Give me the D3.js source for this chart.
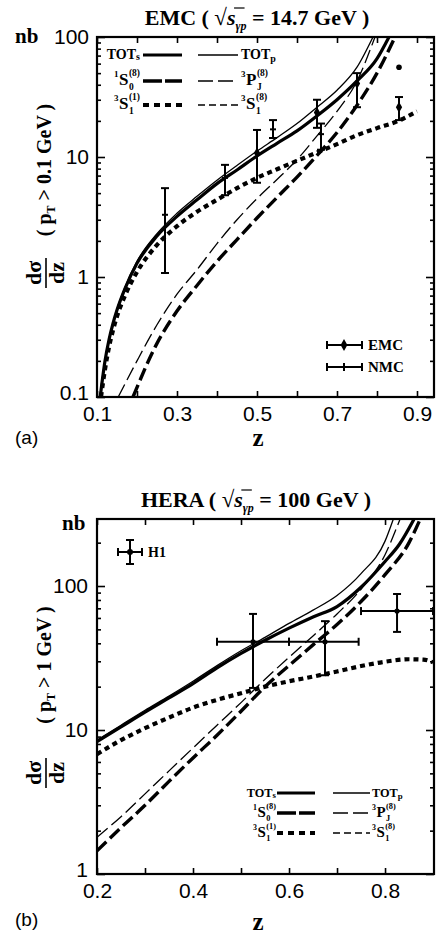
<!DOCTYPE html>
<html>
<head>
<meta charset="utf-8">
<script src="https://cdn.jsdelivr.net/npm/d3@7"></script>
<style>
  body { margin: 0; background: #fff; }
  svg { display: block; }
  text { fill: #000; }
  .tick text { font-family: "Liberation Sans", Arial, sans-serif; font-size: 21px; }
  .serif { font-family: "Liberation Serif", "Times New Roman", serif; font-weight: bold; }
  .sans { font-family: "Liberation Sans", Arial, sans-serif; }
</style>
</head>
<body>
<svg id="chart" width="443" height="936"></svg>
<script>
// ---- panel (a): EMC, curves as [z, dsigma/dz (nb)]
var emcTOTs = [[0.108,0.1],[0.12,0.2],[0.13,0.3],[0.14,0.41],[0.15,0.53],[0.17,0.8],[0.2,1.3],[0.25,2.2],[0.3,3.2],[0.35,4.4],[0.4,6.0],[0.45,7.8],[0.5,10.2],[0.55,13],[0.6,16.5],[0.65,22],[0.7,30],[0.75,43],[0.8,66],[0.83,100]];
var emcTOTp = [[0.108,0.1],[0.12,0.2],[0.13,0.3],[0.14,0.41],[0.15,0.54],[0.17,0.82],[0.2,1.35],[0.25,2.3],[0.3,3.4],[0.35,4.7],[0.4,6.4],[0.45,8.5],[0.5,11.2],[0.55,14.5],[0.6,19],[0.65,26],[0.7,36],[0.75,56],[0.79,100]];
var emcS1c = [[0.11,0.1],[0.12,0.17],[0.13,0.26],[0.14,0.36],[0.15,0.47],[0.17,0.7],[0.2,1.1],[0.25,1.85],[0.3,2.65],[0.35,3.5],[0.4,4.4],[0.45,5.5],[0.5,6.7],[0.55,7.9],[0.6,9.3],[0.65,10.9],[0.7,12.8],[0.75,15.2],[0.8,17.4],[0.85,19.8],[0.9,24]];
var emcPJ = [[0.153,0.1],[0.2,0.2],[0.25,0.4],[0.3,0.72],[0.35,1.15],[0.4,1.9],[0.45,3.0],[0.5,4.5],[0.55,6.5],[0.6,9.5],[0.65,15],[0.7,24],[0.75,43],[0.795,100]];
var emcS0 = [[0.19,0.1],[0.25,0.28],[0.3,0.52],[0.35,0.85],[0.4,1.35],[0.45,2.05],[0.5,3.1],[0.55,4.6],[0.6,6.8],[0.65,10.3],[0.7,16],[0.75,27],[0.8,50],[0.845,100]];

// EMC / NMC data points
var nmcZ = [0.27, 0.42, 0.54, 0.66];
var nmcVal = [3.3, 6.7, 17, 15.5];
var nmcLo = [1.08, 4.8, 14.4, 11.5];
var nmcHi = [5.5, 8.6, 20.3, 19];
var emcZ = [0.5, 0.65, 0.75, 0.855];
var emcVal = [10.8, 23.5, 41, 26];
var emcLo = [6.1, 17.5, 26, 20.3];
var emcHi = [16.8, 30, 50, 31.6];
var emcDot = [[0.855, 56]];

// ---- panel (b): HERA
var heraTOTs = [[0.2,8.3],[0.25,10.5],[0.3,13.3],[0.35,16.7],[0.4,21],[0.45,27],[0.5,34],[0.55,42],[0.6,51],[0.65,61],[0.7,72],[0.75,98],[0.8,148],[0.83,195],[0.86,290]];
var heraTOTp = [[0.2,8.5],[0.25,10.8],[0.3,13.7],[0.35,17.2],[0.4,21.8],[0.45,28],[0.5,35.5],[0.55,44],[0.6,55],[0.65,68],[0.7,86],[0.75,122],[0.8,205],[0.817,290]];
var heraS1c = [[0.2,6.8],[0.25,8.5],[0.3,10.3],[0.35,12.2],[0.4,14.3],[0.45,16.2],[0.5,18],[0.55,20],[0.6,21.8],[0.65,23.5],[0.7,25.5],[0.75,27.8],[0.8,29.8],[0.85,31],[0.88,30.8],[0.9,29.5]];
var heraS0 = [[0.2,1.45],[0.25,2.1],[0.3,3.0],[0.35,4.4],[0.4,6.4],[0.45,9.2],[0.5,13.5],[0.55,20],[0.6,28],[0.65,39],[0.7,54],[0.75,78],[0.8,120],[0.85,200],[0.873,290]];
var heraPJ = [[0.2,1.8],[0.25,2.5],[0.3,3.6],[0.35,5.2],[0.4,7.5],[0.45,10.8],[0.5,15.5],[0.55,22.5],[0.6,32],[0.65,45],[0.7,64],[0.75,95],[0.8,165],[0.831,290]];

// H1 data points
var h1Z = [0.525, 0.675, 0.825];
var h1ZLo = [0.45, 0.6, 0.75];
var h1ZHi = [0.6, 0.745, 0.9];
var h1Val = [41, 41, 67];
var h1Lo = [19.6, 24, 48];
var h1Hi = [64, 57, 88];

// ticks
var aXTicks = [0.1, 0.2, 0.3, 0.4, 0.5, 0.6, 0.7, 0.8, 0.9];
var aXLabels = [0.1, 0.3, 0.5, 0.7, 0.9];
var aYLabels = [0.1, 1, 10, 100];
var bXTicks = [0.2, 0.3, 0.4, 0.5, 0.6, 0.7, 0.8];
var bXLabels = [0.2, 0.4, 0.6, 0.8];
var bYLabels = [1, 10, 100];

// line styles
var styles = {
    TOTs: {w: 3.2, dash: null, legDash: null},
    TOTp: {w: 1.3, dash: null, legDash: null},
    S0:   {w: 3.4, dash: "13,5", legDash: "19,3"},
    PJ:   {w: 1.3, dash: "14,5", legDash: "15,5"},
    S1:   {w: 4.2, dash: "5,4", legDash: "6,5"},
    S18:  {w: 1.3, dash: "7,4", legDash: "7,4"}
};

var svg = d3.select("#chart");

var has = function(arr, d) {
    return arr.some(function(v) { return Math.abs(v - d) < 1e-9 * Math.max(1, v); });
};

// Function: building one panel frame, axes and curves
var makePanel = function(o) {
    var g = svg.append("g");
    var x = d3.scaleLinear().domain(o.xDomain).range([o.left, o.right]);
    var y = d3.scaleLog().domain(o.yDomain).range([o.bottom, o.top]);

    svg.append("clipPath").attr("id", "clip" + o.id)
        .append("rect")
        .attr("x", o.left).attr("y", o.top)
        .attr("width", o.right - o.left).attr("height", o.bottom - o.top);

    // x axes (bottom labelled, top ticks only)
    var xb = g.append("g")
        .attr("transform", "translate(0," + o.bottom + ")")
        .call(d3.axisBottom(x).tickValues(o.xTicks).tickSize(-6).tickPadding(9)
            .tickFormat(function(d) { return has(o.xLabels, d) ? String(+d.toFixed(2)) : ""; }));
    var xt = g.append("g")
        .attr("transform", "translate(0," + o.top + ")")
        .call(d3.axisTop(x).tickValues(o.xTicks).tickSize(-6).tickFormat(""));

    // y axes (log, minor ticks from the scale)
    var isMajor = function(d) { var l = Math.log10(d); return Math.abs(l - Math.round(l)) < 1e-6; };
    var yl = g.append("g")
        .attr("transform", "translate(" + o.left + ",0)")
        .call(d3.axisLeft(y).tickValues(y.ticks()).tickSize(-4).tickPadding(o.yPad)
            .tickFormat(function(d) { return (isMajor(d) && has(o.yLabels, d)) ? String(+d.toFixed(2)) : ""; }));
    var yr = g.append("g")
        .attr("transform", "translate(" + o.right + ",0)")
        .call(d3.axisRight(y).tickValues(y.ticks()).tickSize(-4).tickFormat(""));
    yl.selectAll(".tick line").attr("x2", function(d) { return isMajor(d) ? 8 : 4; });
    yr.selectAll(".tick line").attr("x2", function(d) { return isMajor(d) ? -8 : -4; });
    // lowest label sits a little higher, clear of the x labels
    yl.selectAll(".tick text").filter(function(d) { return Math.abs(d - o.yDomain[0]) < 1e-9; })
        .attr("dy", "0.12em");

    [xb, xt, yl, yr].forEach(function(a) {
        a.select(".domain").remove();
        a.selectAll(".tick line").attr("stroke", "#000").attr("stroke-width", 1.6);
    });

    g.append("rect")
        .attr("x", o.left).attr("y", o.top)
        .attr("width", o.right - o.left).attr("height", o.bottom - o.top)
        .attr("fill", "none").attr("stroke", "#000").attr("stroke-width", 2.2);

    var line = d3.line()
        .x(function(d) { return x(d[0]); })
        .y(function(d) { return y(d[1]); })
        .curve(d3.curveMonotoneX);

    var curves = g.append("g").attr("clip-path", "url(#clip" + o.id + ")");
    o.curves.forEach(function(c) {
        var st = styles[c[1]];
        curves.append("path")
            .attr("d", line(c[0]))
            .attr("fill", "none")
            .attr("stroke", "#000")
            .attr("stroke-width", st.w)
            .attr("stroke-dasharray", st.dash);
    });

    return {g: g, x: x, y: y};
};

// Function: error bar (vertical, optional horizontal)
var errorBar = function(g, px, py, yLo, yHi, xLo, xHi) {
    var add = function(x1, y1, x2, y2) {
        g.append("line").attr("x1", x1).attr("y1", y1).attr("x2", x2).attr("y2", y2)
            .attr("stroke", "#000").attr("stroke-width", 2);
    };
    add(px, yLo, px, yHi);
    add(px - 4, yLo, px + 4, yLo);
    add(px - 4, yHi, px + 4, yHi);
    if (xLo !== undefined) {
        add(xLo, py, xHi, py);
        add(xLo, py - 4, xLo, py + 4);
        add(xHi, py - 4, xHi, py + 4);
    }
};

// Function: legend label with sub / superscripts
var drawLabel = function(g, spec, x, y, alignEnd, k) {
    var grp = g.append("g").attr("class", "serif");
    var cx = 0;
    var piece = function(txt, px, py, fs) {
        var t = grp.append("text").attr("x", px).attr("y", py).style("font-size", (fs * k) + "px").text(txt);
        return t.node().getComputedTextLength();
    };
    var w;
    if (spec.pre === undefined) {
        cx += piece(spec.main, 0, 0, 14);
        w = cx + piece(spec.sub, cx, spec.sub === "p" ? 2.5 * k : 1, 10);
    } else {
        cx += piece(spec.pre, 0, -8 * k, 9) + 0.5;
        cx += piece(spec.main, cx, 0, 17) + 0.5;
        var w1 = piece(spec.sup, cx, -9 * k, 9.5);
        var w2 = piece(spec.sub, cx, 4.5 * k, 9.5);
        w = cx + Math.max(w1, w2);
    }
    grp.attr("transform", "translate(" + (alignEnd ? x - w : x) + "," + y + ")");
};

var leftSpecs = [{main: "TOT", sub: "s"}, {pre: "1", main: "S", sub: "0", sup: "(8)"}, {pre: "3", main: "S", sub: "1", sup: "(1)"}];
var rightSpecs = [{main: "TOT", sub: "p"}, {pre: "3", main: "P", sub: "J", sup: "(8)"}, {pre: "3", main: "S", sub: "1", sup: "(8)"}];
var leftKeys = ["TOTs", "S0", "S1"];
var rightKeys = ["TOTp", "PJ", "S18"];

// Function: six-entry curve legend
var curveLegend = function(g, c) {
    c.rows.forEach(function(ry, i) {
        [[leftKeys[i], c.l1], [rightKeys[i], c.l2]].forEach(function(e) {
            var st = styles[e[0]];
            g.append("line")
                .attr("x1", e[1][0]).attr("x2", e[1][1]).attr("y1", ry).attr("y2", ry)
                .attr("stroke", "#000").attr("stroke-width", st.w)
                .attr("stroke-dasharray", st.legDash);
        });
        drawLabel(g, leftSpecs[i], c.lx, ry + 4, true, c.k);
        drawLabel(g, rightSpecs[i], c.rx, ry + 4, false, c.k);
    });
};

// Function: title with square root
var drawTitle = function(cx, by, pre, post) {
    var t = svg.append("text").attr("class", "serif")
        .attr("x", cx).attr("y", by).attr("text-anchor", "middle")
        .style("font-size", "22px");
    t.append("tspan").text(pre);
    t.append("tspan").style("font-weight", "normal").style("font-size", "23px").text("\u221A");
    t.append("tspan").style("font-style", "italic").text("s");
    t.append("tspan").style("font-style", "italic").style("font-size", "12px").attr("dy", 5).text("\u03B3p");
    t.append("tspan").attr("dy", -5).text(post);
    var n = t.node();
    var i = pre.length;
    var x1 = n.getEndPositionOfChar(i).x - 1.5;
    var x2 = n.getEndPositionOfChar(i + 1).x + 4;
    svg.append("line").attr("x1", x1).attr("x2", x2)
        .attr("y1", by - 17).attr("y2", by - 17)
        .attr("stroke", "#000").attr("stroke-width", 1.2);
};

// Function: rotated y title
var yTitle = function(cyFrac, cyCond, cond) {
    var f = svg.append("g").attr("class", "serif")
        .attr("transform", "translate(46," + cyFrac + ") rotate(-90)");
    f.append("text").attr("text-anchor", "middle").attr("y", -5).style("font-size", "22px").text("d\u03C3");
    f.append("line").attr("x1", -15).attr("x2", 15).attr("stroke", "#000").attr("stroke-width", 1.6);
    f.append("text").attr("text-anchor", "middle").attr("y", 18).style("font-size", "22px").text("dz");

    var c = svg.append("text").attr("class", "serif")
        .attr("transform", "translate(44," + cyCond + ") rotate(-90)")
        .attr("text-anchor", "middle").attr("y", 7).style("font-size", "20px");
    c.append("tspan").text("(  p");
    c.append("tspan").style("font-size", "12px").attr("dy", 4).text("T");
    c.append("tspan").attr("dy", -4).text(" > " + cond + " GeV )");
};

// ================= panel (a)
var pa = makePanel({
    id: "a", left: 97, right: 434, top: 37, bottom: 397,
    xDomain: [0.1, 0.9425], yDomain: [0.1, 100], yPad: 8,
    xTicks: aXTicks, xLabels: aXLabels, yLabels: aYLabels,
    curves: [[emcS1c, "S1"], [emcS0, "S0"], [emcPJ, "PJ"], [emcTOTs, "TOTs"], [emcTOTp, "TOTp"]]
});

nmcZ.forEach(function(z, i) {
    var px = pa.x(z), py = pa.y(nmcVal[i]);
    errorBar(pa.g, px, py, pa.y(nmcLo[i]), pa.y(nmcHi[i]));
    pa.g.append("line").attr("x1", px - 3).attr("x2", px + 3).attr("y1", py).attr("y2", py)
        .attr("stroke", "#000").attr("stroke-width", 2);
});
emcZ.forEach(function(z, i) {
    var px = pa.x(z), py = pa.y(emcVal[i]);
    errorBar(pa.g, px, py, pa.y(emcLo[i]), pa.y(emcHi[i]));
    pa.g.append("path").attr("d", d3.symbol().type(d3.symbolDiamond).size(34)())
        .attr("transform", "translate(" + px + "," + py + ")").attr("fill", "#000");
});
emcDot.forEach(function(d) {
    pa.g.append("circle").attr("cx", pa.x(d[0])).attr("cy", pa.y(d[1])).attr("r", 2.8).attr("fill", "#000");
});

curveLegend(pa.g, {rows: [55, 81, 105], lx: 140, rx: 241, l1: [143, 182], l2: [198, 238], k: 1});

// EMC / NMC legend
[["EMC", 345], ["NMC", 367]].forEach(function(e, i) {
    var yy = e[1];
    errorBar(pa.g, 344, yy, yy, yy, 327, 362);
    if (i === 0) {
        pa.g.append("path").attr("d", d3.symbol().type(d3.symbolDiamond).size(40)())
            .attr("transform", "translate(344," + yy + ")").attr("fill", "#000");
    } else {
        pa.g.append("line").attr("x1", 344).attr("x2", 344).attr("y1", yy - 4).attr("y2", yy + 4)
            .attr("stroke", "#000").attr("stroke-width", 2);
    }
    pa.g.append("text").attr("class", "serif").attr("x", 368).attr("y", yy + 5)
        .style("font-size", "15px").text(e[0]);
});

drawTitle(257, 25, "EMC (  ", " = 14.7 GeV )");
svg.append("text").attr("class", "serif").attr("x", 15).attr("y", 43).style("font-size", "21px").text("nb");
yTitle(273, 170, "0.1");
svg.append("text").attr("class", "sans").attr("x", 15).attr("y", 444).style("font-size", "19px").text("(a)");
svg.append("text").attr("class", "serif").attr("x", 258).attr("y", 446).attr("text-anchor", "middle").style("font-size", "25px").text("z");

// ================= panel (b)
var pb = makePanel({
    id: "b", left: 97, right: 434, top: 519, bottom: 874,
    xDomain: [0.2, 0.902], yDomain: [1, 292], yPad: 9,
    xTicks: bXTicks, xLabels: bXLabels, yLabels: bYLabels,
    curves: [[heraS1c, "S1"], [heraS0, "S0"], [heraPJ, "PJ"], [heraTOTs, "TOTs"], [heraTOTp, "TOTp"]]
});

h1Z.forEach(function(z, i) {
    var px = pb.x(z), py = pb.y(h1Val[i]);
    errorBar(pb.g, px, py, pb.y(h1Lo[i]), pb.y(h1Hi[i]), pb.x(h1ZLo[i]), pb.x(h1ZHi[i]));
    pb.g.append("circle").attr("cx", px).attr("cy", py).attr("r", 2.6).attr("fill", "#000");
});

// H1 legend
errorBar(pb.g, 130, 552, 564, 540, 118, 142);
pb.g.append("circle").attr("cx", 130).attr("cy", 552).attr("r", 3).attr("fill", "#000");
pb.g.append("text").attr("class", "serif").attr("x", 148).attr("y", 557).style("font-size", "14px").text("H1");

curveLegend(pb.g, {rows: [793, 813, 833], lx: 276, rx: 372, l1: [277, 315], l2: [333, 370], k: 0.88});

drawTitle(256, 507, "HERA (  ", " = 100 GeV )");
svg.append("text").attr("class", "serif").attr("x", 62).attr("y", 530).style("font-size", "21px").text("nb");
yTitle(773, 665, "1");
svg.append("text").attr("class", "sans").attr("x", 15).attr("y", 926).style("font-size", "19px").text("(b)");
svg.append("text").attr("class", "serif").attr("x", 258).attr("y", 930).attr("text-anchor", "middle").style("font-size", "25px").text("z");
</script>
</body>
</html>
